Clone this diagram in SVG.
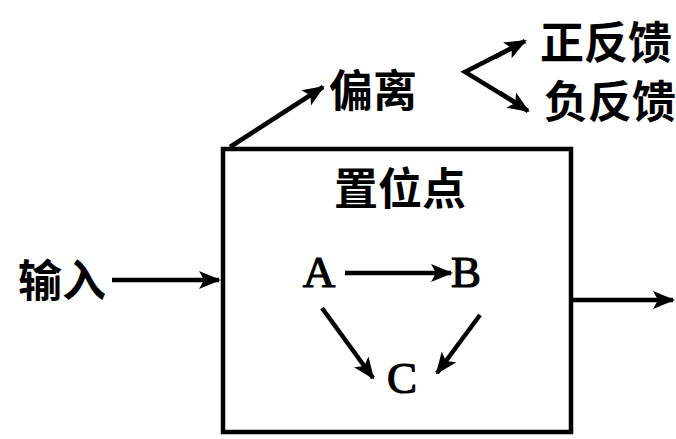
<svg xmlns="http://www.w3.org/2000/svg" width="676" height="439" viewBox="0 0 676 439">
<style>
.cjk{font-family:"Noto Sans CJK SC","Noto Sans CJK JP",sans-serif;font-weight:bold;font-size:44px;fill:#000}
.lat{font-family:"Liberation Serif",serif;font-size:45px;fill:#000;stroke:#000;stroke-width:1.2}
.ln{stroke:#000;stroke-width:4.5;fill:none;marker-end:url(#ah)}
</style>
<defs>
<marker id="ah" markerUnits="userSpaceOnUse" markerWidth="22" markerHeight="18" viewBox="0 0 22 18" refX="20" refY="9" orient="auto">
<path d="M0,0 L22,9 L0,18 L5,9 Z" fill="#000"/>
</marker>
</defs>
<rect width="676" height="439" fill="#fff"/>
<g id="box">
<rect x="223" y="149" width="348" height="283" fill="none" stroke="#000" stroke-width="4.5"/>
<text class="cjk" x="400" y="205" text-anchor="middle">置位点</text>
</g>
<g id="input"><text class="cjk" x="62" y="297" text-anchor="middle">输入</text></g>
<g id="deviation"><text class="cjk" x="373" y="107" text-anchor="middle">偏离</text></g>
<g id="positive"><text class="cjk" x="606" y="59" text-anchor="middle">正反馈</text></g>
<g id="negative"><text class="cjk" x="610" y="118" text-anchor="middle">负反馈</text></g>
<g id="A"><text class="lat" x="319" y="287" text-anchor="middle">A</text></g>
<g id="B"><text class="lat" x="466" y="287" text-anchor="middle">B</text></g>
<g id="C"><text class="lat" x="402" y="393" text-anchor="middle">C</text></g>
<g id="connectors">
<line class="ln" x1="112" y1="280" x2="219" y2="280"/>
<line class="ln" x1="573" y1="300" x2="673" y2="300"/>
<line class="ln" x1="230" y1="147" x2="323" y2="87"/>
<polyline points="520,44 465,72 524,108" stroke="#000" stroke-width="4.5" fill="none" stroke-linejoin="miter"/>
<line class="ln" x1="495" y1="57" x2="525" y2="41"/>
<line class="ln" x1="500" y1="93" x2="528" y2="111"/>
<line class="ln" x1="345" y1="273" x2="451" y2="273"/>
<line class="ln" x1="322" y1="308" x2="373" y2="378"/>
<line class="ln" x1="480" y1="315" x2="437" y2="373"/>
</g>
</svg>
